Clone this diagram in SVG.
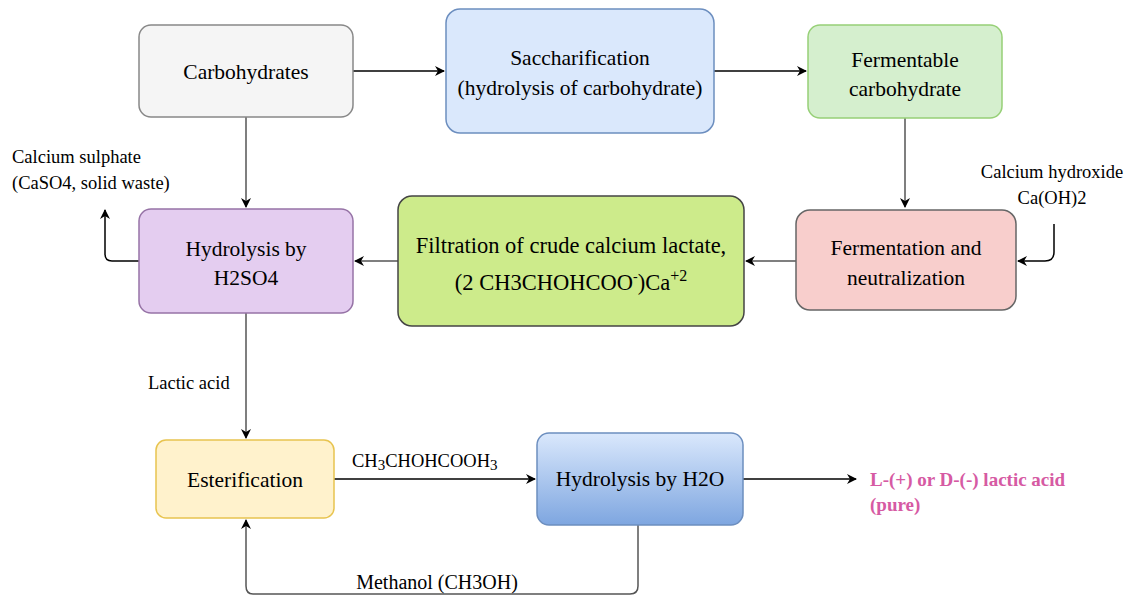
<svg xmlns="http://www.w3.org/2000/svg" width="1127" height="595" viewBox="0 0 1127 595">
<style>
text{font-family:"Liberation Serif","Times New Roman",serif;fill:#000}
.n{font-size:21.5px;text-anchor:middle}
.f{font-size:22.5px;text-anchor:middle}
.l{font-size:18.5px}
.p{font-size:19px;font-weight:bold;fill:#d65aa3}
.c{fill:none;stroke:#000;stroke-width:1.5}
.g{fill:none;stroke:#555;stroke-width:1.5}
</style>
<defs>
<marker id="a" viewBox="0 0 10 10" refX="9" refY="5" markerWidth="10" markerHeight="10" markerUnits="userSpaceOnUse" orient="auto"><path d="M0,0 L10,5 L0,10 L3,5 Z" fill="#000"/></marker>
<linearGradient id="bg" x1="0" y1="0" x2="0" y2="1"><stop offset="0" stop-color="#dae8fc"/><stop offset="1" stop-color="#7ea6e0"/></linearGradient>
</defs>
<rect width="1127" height="595" fill="#fff"/>
<g id="connectors">
<path class="c" d="M353,71 H444" marker-end="url(#a)"/>
<path class="c" d="M714,71 H806" marker-end="url(#a)"/>
<path class="g" d="M905,118 V207" marker-end="url(#a)"/>
<path class="g" d="M796,261 H746" marker-end="url(#a)"/>
<path class="g" d="M398,261 H355" marker-end="url(#a)"/>
<path class="g" d="M246,117 V207" marker-end="url(#a)"/>
<path class="c" d="M139,261 H112 Q105,261 105,254 V210" marker-end="url(#a)"/>
<path class="c" d="M1054,224 V252 Q1054,261 1045,261 H1018" marker-end="url(#a)"/>
<path class="g" d="M246,313 V438" marker-end="url(#a)"/>
<path class="c" d="M334,479 H535" marker-end="url(#a)"/>
<path class="c" d="M743,479 H856" marker-end="url(#a)"/>
<path class="g" d="M638,525 V586 Q638,594 630,594 H253 Q246,594 246,586 V520" marker-end="url(#a)"/>
</g>
<g id="carbohydrates"><rect x="139" y="25" width="214" height="92" rx="12" fill="#f5f5f5" stroke="#888" stroke-width="1.5"/><text class="n" x="246" y="79">Carbohydrates</text></g>
<g id="saccharification"><rect x="446" y="9" width="268" height="124" rx="14" fill="#dae8fc" stroke="#6c8ebf" stroke-width="1.5"/><text class="n" x="580" y="65">Saccharification</text><text class="n" x="580" y="95">(hydrolysis of carbohydrate)</text></g>
<g id="fermentable"><rect x="808" y="25" width="194" height="93" rx="12" fill="#d5efce" stroke="#97d077" stroke-width="1.5"/><text class="n" x="905" y="67">Fermentable</text><text class="n" x="905" y="96">carbohydrate</text></g>
<g id="fermentation"><rect x="796" y="210" width="220" height="100" rx="14" fill="#f8cecc" stroke="#666" stroke-width="1.5"/><text class="n" x="906" y="255">Fermentation and</text><text class="n" x="906" y="285">neutralization</text></g>
<g id="filtration"><rect x="398" y="196" width="346" height="130" rx="14" fill="#cdeb8b" stroke="#444" stroke-width="1.5"/><text class="f" x="571" y="253">Filtration of crude calcium lactate,</text><text class="f" x="571" y="290">(2 CH3CHOHCOO<tspan dy="-9" font-size="14">-</tspan><tspan dy="9">)Ca</tspan><tspan dy="-9" font-size="16">+2</tspan></text></g>
<g id="hydrolysis-h2so4"><rect x="139" y="209" width="214" height="104" rx="12" fill="#e4cdf0" stroke="#9673a6" stroke-width="1.5"/><text class="n" x="246" y="256">Hydrolysis by</text><text class="n" x="246" y="285">H2SO4</text></g>
<g id="esterification"><rect x="156" y="440" width="178" height="78" rx="10" fill="#fff2cc" stroke="#e8c44f" stroke-width="1.5"/><text class="n" x="245" y="487">Esterification</text></g>
<g id="hydrolysis-h2o"><rect x="537" y="433" width="206" height="92" rx="12" fill="url(#bg)" stroke="#6c8ebf" stroke-width="1.5"/><text class="n" x="640" y="486">Hydrolysis by H2O</text></g>
<g id="labels">
<text class="l" x="12" y="163">Calcium sulphate</text>
<text class="l" x="12" y="189">(CaSO4, solid waste)</text>
<text class="l" x="1052" y="178" text-anchor="middle">Calcium hydroxide</text>
<text class="l" x="1052" y="204" text-anchor="middle">Ca(OH)2</text>
<text class="l" x="148" y="389">Lactic acid</text>
<text class="l" x="352" y="467">CH<tspan font-size="15" dy="3">3</tspan><tspan dy="-3">CHOHCOOH</tspan><tspan font-size="15" dy="3">3</tspan></text>
<text class="l" x="437" y="589" text-anchor="middle" style="font-size:20px">Methanol (CH3OH)</text>
<text class="p" x="870" y="486">L-(+) or D-(-) lactic acid</text>
<text class="p" x="870" y="511">(pure)</text>
</g>
</svg>
